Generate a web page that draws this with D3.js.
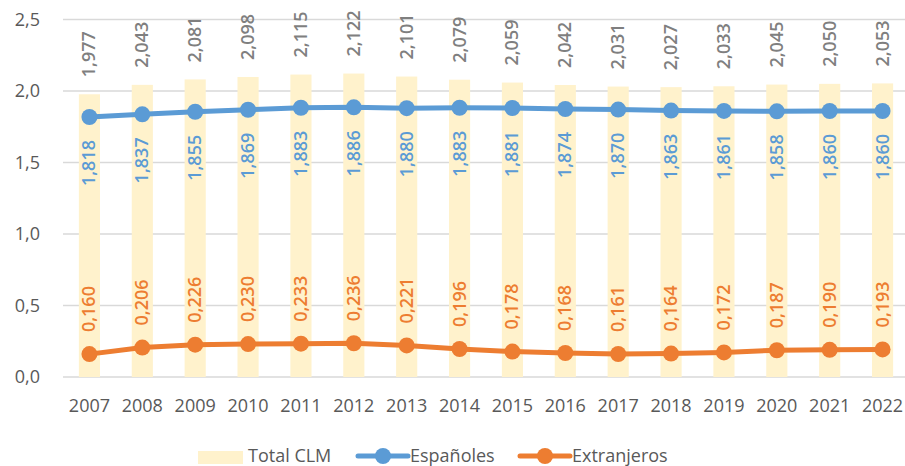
<!DOCTYPE html>
<html>
<head>
<meta charset="utf-8">
<script src="https://cdn.jsdelivr.net/npm/d3@7"></script>
<style>
  body { margin: 0; background: #fff; }
  text { font-family: 'Open Sans', sans-serif; }
</style>
</head>
<body>
<div id="chart"></div>
<script>
const years = ['2007', '2008', '2009', '2010', '2011', '2012', '2013', '2014', '2015', '2016', '2017', '2018', '2019', '2020', '2021', '2022']
const total = [1.977, 2.043, 2.081, 2.098, 2.115, 2.122, 2.101, 2.079, 2.059, 2.042, 2.031, 2.027, 2.033, 2.045, 2.050, 2.053]
const espanoles = [1.818, 1.837, 1.855, 1.869, 1.883, 1.886, 1.880, 1.883, 1.881, 1.874, 1.870, 1.863, 1.861, 1.858, 1.860, 1.860]
const extranjeros = [0.160, 0.206, 0.226, 0.230, 0.233, 0.236, 0.221, 0.196, 0.178, 0.168, 0.161, 0.164, 0.172, 0.187, 0.190, 0.193]
const yTicks = [0, 0.5, 1.0, 1.5, 2.0, 2.5]

const W = 905
const H = 466
const margin = { top: 19.5, right: -4, bottom: 89, left: 63 }
const width = W - margin.left - margin.right
const height = H - margin.top - margin.bottom

const blue = '#5B9BD5'
const orange = '#ED7D31'
const fmt = d => d3.format('.3f')(d).replace('.', ',')

const svg = d3.select('#chart').append('svg')
  .attr('width', W)
  .attr('height', H)

const g = svg.append('g')
  .attr('transform', 'translate(' + margin.left + ',' + margin.top + ')')

const x = d3.scaleBand().domain(years).range([0, width]).paddingInner(0.6).paddingOuter(0.3)
const xc = d => x(d) + x.bandwidth() / 2
const y = d3.scaleLinear().domain([0, 2.5]).range([height, 0])

// gridlines
g.append('g')
  .selectAll('line')
  .data(yTicks)
  .join('line')
  .attr('x1', 0)
  .attr('x2', width)
  .attr('y1', d => y(d))
  .attr('y2', d => y(d))
  .attr('stroke', '#D9D9D9')
  .attr('stroke-width', 1.3)

// y axis labels
g.append('g')
  .selectAll('text')
  .data(yTicks)
  .join('text')
  .attr('x', -23)
  .attr('y', d => y(d))
  .attr('dy', '0.35em')
  .attr('text-anchor', 'end')
  .attr('font-size', 18)
  .attr('fill', '#595959')
  .text(d => d3.format('.1f')(d).replace('.', ','))

// x axis labels
g.append('g')
  .selectAll('text')
  .data(years)
  .join('text')
  .attr('x', d => xc(d))
  .attr('y', height + 35)
  .attr('text-anchor', 'middle')
  .attr('font-size', 18)
  .attr('fill', '#595959')
  .text(d => d)

// bars
g.append('g')
  .selectAll('rect')
  .data(years)
  .join('rect')
  .attr('x', d => x(d))
  .attr('width', x.bandwidth())
  .attr('y', (d, i) => y(total[i]))
  .attr('height', (d, i) => height - y(total[i]))
  .attr('fill', '#FFF2CC')

// bar labels
g.append('g')
  .selectAll('text')
  .data(years)
  .join('text')
  .attr('transform', (d, i) => 'translate(' + (xc(d) + 6) + ',' + (y(total[i]) - 17) + ') rotate(-90)')
  .attr('text-anchor', 'start')
  .attr('font-size', 18)
  .attr('font-weight', 600)
  .attr('fill', '#7F7F7F')
  .text((d, i) => fmt(total[i]))

function drawLine(values, color, labelAbove) {
  const line = d3.line()
    .x((d, i) => xc(years[i]))
    .y(d => y(d))

  g.append('path')
    .datum(values)
    .attr('d', line)
    .attr('fill', 'none')
    .attr('stroke', color)
    .attr('stroke-width', 5)

  g.append('g')
    .selectAll('circle')
    .data(values)
    .join('circle')
    .attr('cx', (d, i) => xc(years[i]))
    .attr('cy', d => y(d))
    .attr('r', 8)
    .attr('fill', color)

  g.append('g')
    .selectAll('text')
    .data(values)
    .join('text')
    .attr('transform', (d, i) => 'translate(' + (xc(years[i]) + 6) + ',' + (labelAbove ? y(d) - 22 : y(d) + 23) + ') rotate(-90)')
    .attr('text-anchor', labelAbove ? 'start' : 'end')
    .attr('font-size', 18)
    .attr('font-weight', 600)
    .attr('fill', color)
    .text(d => fmt(d))
}

drawLine(espanoles, blue, false)
drawLine(extranjeros, orange, true)

// legend
const legend = svg.append('g')
legend.append('rect')
  .attr('x', 198).attr('y', 451).attr('width', 45).attr('height', 13)
  .attr('fill', '#FFF2CC')
legend.append('text')
  .attr('x', 248).attr('y', 462)
  .attr('font-size', 18).attr('fill', '#595959')
  .text('Total CLM')

const lineItems = [
  { x: 358, color: blue, label: 'Españoles' },
  { x: 520, color: orange, label: 'Extranjeros' }
]
lineItems.forEach(item => {
  legend.append('line')
    .attr('x1', item.x).attr('x2', item.x + 50)
    .attr('y1', 456).attr('y2', 456)
    .attr('stroke', item.color).attr('stroke-width', 5)
    .attr('stroke-linecap', 'round')
  legend.append('circle')
    .attr('cx', item.x + 25).attr('cy', 456).attr('r', 8)
    .attr('fill', item.color)
  legend.append('text')
    .attr('x', item.x + 52).attr('y', 462)
    .attr('font-size', 18).attr('fill', '#595959')
    .text(item.label)
})
</script>
</body>
</html>
